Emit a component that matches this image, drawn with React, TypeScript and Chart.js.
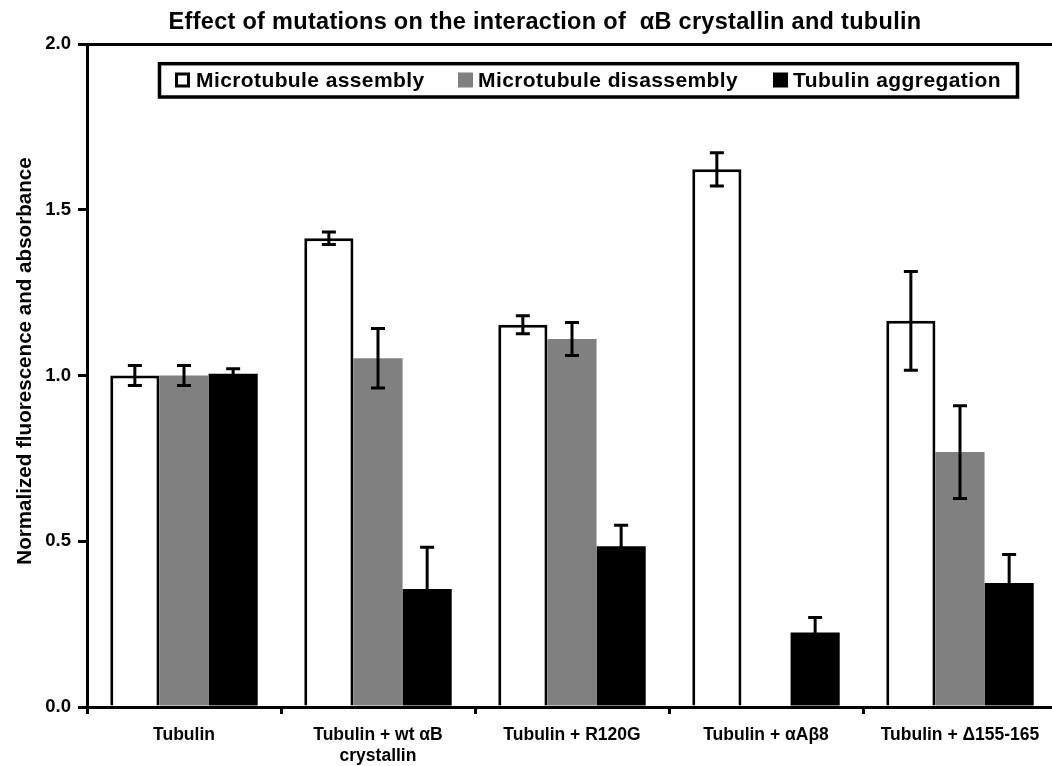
import React, { useEffect, useRef } from 'react';
import { Chart, registerables } from 'chart.js';

Chart.register(...registerables);

const titleText = 'Effect of mutations on the interaction of  \u03b1B crystallin and tubulin';
const yTitle = 'Normalized fluorescence and absorbance';
const categories: string[][] = [
  ['Tubulin'],
  ['Tubulin + wt \u03b1B', 'crystallin'],
  ['Tubulin + R120G'],
  ['Tubulin + \u03b1A\u03b28'],
  ['Tubulin + \u0394155-165'],
];
const seriesNames = ['Microtubule assembly', 'Microtubule disassembly', 'Tubulin aggregation'];
const assembly = [1.0, 1.414, 1.153, 1.622, 1.165];
const assemblyErr = [0.03, 0.019, 0.027, 0.05, 0.149];
const disassembly: (number | null)[] = [1.0, 1.052, 1.11, null, 0.769];
const disassemblyErr: (number | null)[] = [0.03, 0.09, 0.05, null, 0.14];
const aggregation = [1.005, 0.356, 0.485, 0.225, 0.374];
const aggregationErr = [0.015, 0.126, 0.063, 0.045, 0.086];
const yTicks = [0, 0.5, 1.0, 1.5, 2.0];

const FONT = "'Liberation Sans', Arial, sans-serif";

const errorBarPlugin = {
  id: 'errorBars',
  afterDatasetsDraw(chart: any) {
    const ctx = chart.ctx;
    const y = chart.scales.y;
    const errs = [assemblyErr, disassemblyErr, aggregationErr];
    ctx.save();
    ctx.strokeStyle = '#000';
    ctx.lineWidth = 3;
    chart.data.datasets.forEach((ds: any, di: number) => {
      const meta = chart.getDatasetMeta(di);
      meta.data.forEach((bar: any, i: number) => {
        const v = ds.data[i];
        const e = errs[di][i];
        if (v == null || e == null) return;
        const x = bar.x;
        const yt = y.getPixelForValue(v + e);
        const yb = y.getPixelForValue(v - e);
        const cap = 7;
        ctx.beginPath();
        ctx.moveTo(x, yt);
        ctx.lineTo(x, yb);
        ctx.moveTo(x - cap, yt);
        ctx.lineTo(x + cap, yt);
        ctx.moveTo(x - cap, yb);
        ctx.lineTo(x + cap, yb);
        ctx.stroke();
      });
    });
    ctx.restore();
  },
};

const titleLegendPlugin = {
  id: 'titleLegend',
  afterDraw(chart: any) {
    const ctx = chart.ctx;
    const area = chart.chartArea;
    ctx.save();
    // title
    ctx.fillStyle = '#000';
    ctx.font = `bold 23.5px ${FONT}`;
    (ctx as any).letterSpacing = '0.3px';
    ctx.textAlign = 'center';
    ctx.textBaseline = 'alphabetic';
    ctx.fillText(titleText, 545, 28.5);
    // y-axis title
    ctx.save();
    (ctx as any).letterSpacing = '0px';
    ctx.font = `bold 20.6px ${FONT}`;
    ctx.translate(31, 361);
    ctx.rotate(-Math.PI / 2);
    ctx.textAlign = 'center';
    ctx.textBaseline = 'alphabetic';
    ctx.fillText(yTitle, 0, 0);
    ctx.restore();
    // legend box
    const bx = area.left + 72.5;
    const by = area.top + 19.7;
    const bw = 858;
    const bh = 33.3;
    ctx.lineWidth = 3.5;
    ctx.strokeStyle = '#000';
    ctx.strokeRect(bx, by, bw, bh);
    const items = [
      { x: bx + 15.5, tx: bx + 36.5, fill: '#ffffff', border: true },
      { x: bx + 298.5, tx: bx + 318.5, fill: '#808080', border: false },
      { x: bx + 613.5, tx: bx + 633.5, fill: '#000000', border: false },
    ];
    ctx.font = `bold 21px ${FONT}`;
    (ctx as any).letterSpacing = '0.4px';
    ctx.textAlign = 'left';
    ctx.textBaseline = 'alphabetic';
    const cy = by + 16.3;
    items.forEach((it, i) => {
      const s = 15;
      ctx.fillStyle = it.fill;
      ctx.fillRect(it.x, cy - s / 2, s, s);
      if (it.border) {
        ctx.lineWidth = 3;
        ctx.strokeRect(it.x + 1.5, cy - s / 2 + 1.5, s - 3, s - 3);
      }
      ctx.fillStyle = '#000';
      ctx.fillText(seriesNames[i], it.tx, by + 23.5);
    });
    ctx.restore();
  },
};

export default function App() {
  const ref = useRef<HTMLCanvasElement | null>(null);
  useEffect(() => {
    if (!ref.current) return;
    const chart = new Chart(ref.current, {
      type: 'bar',
      data: {
        labels: categories as any,
        datasets: [
          {
            label: seriesNames[0],
            data: assembly,
            backgroundColor: '#ffffff',
            borderColor: '#000000',
            borderWidth: 3,
          },
          {
            label: seriesNames[1],
            data: disassembly as any,
            backgroundColor: '#808080',
            borderWidth: 0,
          },
          {
            label: seriesNames[2],
            data: aggregation,
            backgroundColor: '#000000',
            borderWidth: 0,
          },
        ],
      },
      options: {
        responsive: false,
        animation: false,
        layout: { padding: { top: 44, right: 5, left: 0, bottom: 0 } },
        datasets: { bar: { categoryPercentage: 0.76, barPercentage: 1.0 } },
        plugins: {
          legend: { display: false },
          title: { display: false },
          tooltip: { enabled: false },
        },
        scales: {
          x: {
            afterFit: (s: any) => { s.height = 59; },
            grid: {
              offset: true,
              drawOnChartArea: false,
              drawTicks: true,
              tickLength: 7,
              tickColor: '#000',
              tickWidth: 3,
              lineWidth: 3,
            },
            border: { display: true, color: '#000', width: 3 },
            ticks: {
              color: '#000',
              font: { family: FONT, size: 17.5, weight: 'bold', lineHeight: 1.2 },
              padding: 11,
              maxRotation: 0,
              autoSkip: false,
            },
          },
          y: {
            min: 0,
            max: 2,
            afterFit: (s: any) => { s.width = 87; },
            afterBuildTicks: (s: any) => { s.ticks = yTicks.map((v) => ({ value: v })); },
            grid: {
              color: (c: any) => (c.tick && c.tick.value === 2 ? '#000' : 'rgba(0,0,0,0)'),
              lineWidth: 3,
              drawTicks: true,
              tickLength: 9,
              tickColor: '#000',
              tickWidth: 3,
            },
            border: { display: true, color: '#000', width: 3 },
            ticks: {
              color: '#000',
              font: { family: FONT, size: 18.5, weight: 'bold' },
              padding: 7,
              callback: (v: any) => Number(v).toFixed(1),
            },
            title: { display: false },
          },
        },
      },
      plugins: [errorBarPlugin, titleLegendPlugin],
    });
    return () => chart.destroy();
  }, []);
  return (
    <div style={{ position: 'absolute', left: 0, top: 0, width: 1052, height: 766, overflow: 'hidden', background: '#fff' }}>
      <canvas ref={ref} width={1062} height={766} style={{ display: 'block' }} />
    </div>
  );
}
